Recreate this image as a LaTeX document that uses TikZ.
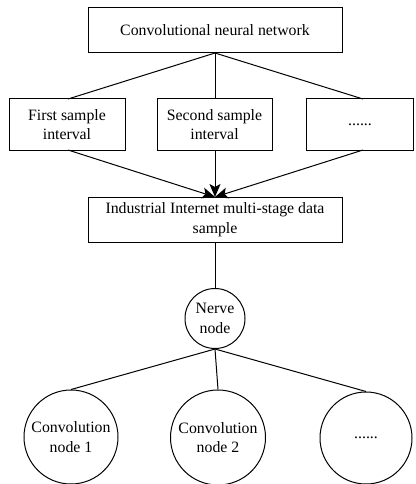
\documentclass[tikz,border=0pt]{standalone}
\usepackage{fontspec}
\setmainfont{Liberation Serif}
\usetikzlibrary{arrows.meta}
\begin{document}
\begin{tikzpicture}[x=1pt,y=-1pt,
  box/.style={draw,line width=1pt,inner sep=0pt,align=center,font=\fontsize{15.8}{19.5}\selectfont},
  circ/.style={draw,circle,line width=1pt,inner sep=0pt,align=center,font=\fontsize{15.8}{19.5}\selectfont},
  conn/.style={line width=1pt},
  arr/.style={line width=1pt,-{Stealth[length=13pt,width=11pt,inset=3pt]}}]
\useasboundingbox (0,0) rectangle (415,484);
\node[box,minimum width=254pt,minimum height=45pt] (cnn) at (215,30.5) {Convolutional neural network};
\node[box,minimum width=116pt,minimum height=51pt] (s1) at (67,124.5) {First sample\\interval};
\node[box,minimum width=115pt,minimum height=51pt] (s2) at (214.5,124.5) {Second sample\\interval};
\node[box,minimum width=107pt,minimum height=51pt] (s3) at (360,124.5) {......};
\node[box,minimum width=254pt,minimum height=45pt] (ind) at (215,219.5) {Industrial Internet multi-stage data\\sample};
\node[circ,minimum size=60pt] (nerve) at (215,318.5) {Nerve\\node};
\node[circ,minimum size=94pt] (c1) at (71,437) {Convolution\\node 1};
\node[circ,minimum size=95pt] (c2) at (218,437.5) {Convolution\\node 2};
\node[circ,minimum size=92pt] (c3) at (366,438) {......};
\coordinate (cnnb) at (215,53);
\coordinate (t1) at (68,99);
\coordinate (t2) at (215,99);
\coordinate (t3) at (363,99);
\coordinate (b1) at (68,150);
\coordinate (b2) at (215,150);
\coordinate (b3) at (363,150);
\coordinate (tip) at (215,197);
\draw[conn] (cnnb) -- (t1);
\draw[conn] (cnnb) -- (t2);
\draw[conn] (cnnb) -- (t3);
\draw[arr] (b1) -- (tip);
\draw[arr] (b2) -- (tip);
\draw[arr] (b3) -- (tip);
\draw[conn] (ind.south) -- (nerve.north);
\draw[conn] (nerve.south) -- (c1.north);
\draw[conn] (nerve.south) -- (c2.north);
\draw[conn] (nerve.south) -- (c3.north);
\end{tikzpicture}
\end{document}
